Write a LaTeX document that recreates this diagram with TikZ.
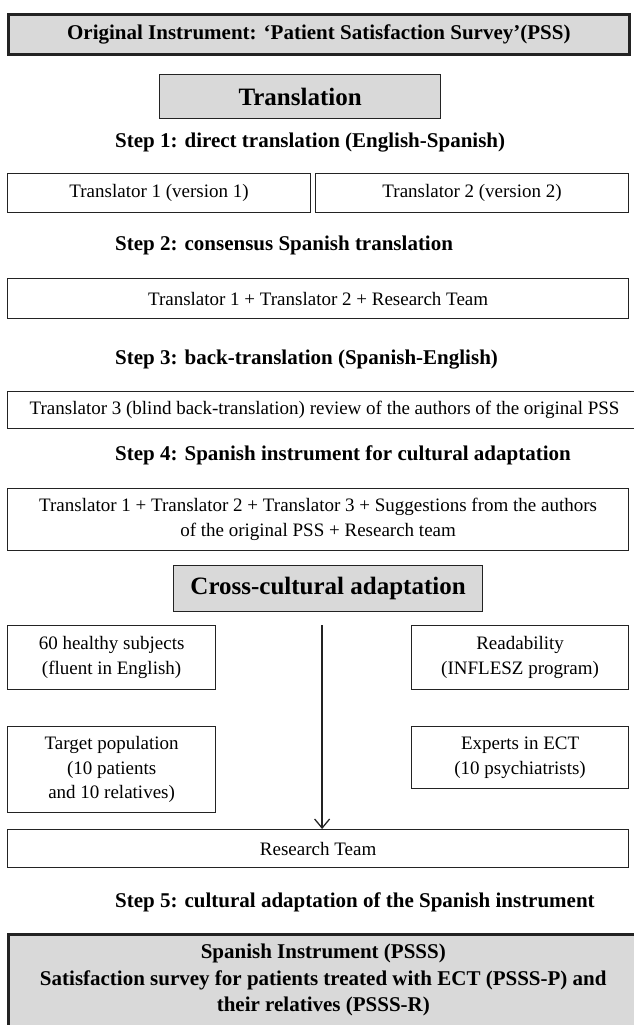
\documentclass[tikz,border=0pt]{standalone}
\usepackage{fontspec}
\setmainfont{Liberation Serif}
\usetikzlibrary{positioning,arrows.meta}
\definecolor{BoxGray}{RGB}{217,217,217}
\definecolor{Edge}{RGB}{35,35,35}

\begin{document}
\begin{tikzpicture}[x=1pt,y=-1pt,
    titlebox/.style={draw=Edge,line width=2.6pt,fill=BoxGray,align=center,inner sep=0pt,font=\fontsize{21}{26.5}\selectfont\bfseries},
    stagebox/.style={draw=Edge,line width=1.2pt,fill=BoxGray,inner sep=0pt,font=\fontsize{25}{28}\selectfont\bfseries},
    steptext/.style={anchor=west,inner sep=0pt,font=\fontsize{21}{25}\selectfont\bfseries},
    plainbox/.style={draw=Edge,line width=1.2pt,fill=white,align=center,inner sep=0pt,anchor=north west,font=\fontsize{19}{24.5}\selectfont},
    flow/.style={-{Straight Barb[length=9pt,width=15pt,line width=1.3pt]},line width=1.3pt,Edge}
]
\useasboundingbox (0,0) rectangle (633,1025);

% Original instrument and translation stage
\node[titlebox,anchor=north west,minimum width=621pt,minimum height=40pt] (origbox) at (7,13)
  {Original Instrument: `Patient Satisfaction Survey'(PSS)};
\node[stagebox,anchor=north west,minimum width=281pt,minimum height=44pt] (transbox) at (159,74) {Translation};

% Step 1
\node[steptext] (stepone) at (115,143) {Step 1: direct translation (English-Spanish)};
\node[plainbox,minimum width=303pt,minimum height=39pt] (tra) at (7,173) {Translator 1 (version 1)};
\node[plainbox,minimum width=313pt,minimum height=39pt] (trb) at (315,173) {Translator 2 (version 2)};

% Step 2
\node[steptext] (steptwo) at (115,245) {Step 2: consensus Spanish translation};
\node[plainbox,minimum width=621pt,minimum height=40pt] (consbox) at (7,278) {Translator 1 + Translator 2 + Research Team};

% Step 3
\node[steptext] (stepthree) at (115,360) {Step 3: back-translation (Spanish-English)};
\node[plainbox,minimum width=634pt,minimum height=37pt] (backbox) at (7,391)
  {Translator 3 (blind back-translation) review of the authors of the original PSS};

% Step 4
\node[steptext] (stepfour) at (115,455) {Step 4: Spanish instrument for cultural adaptation};
\node[plainbox,minimum width=621pt,minimum height=62pt] (cultbox) at (7,488)
  {Translator 1 + Translator 2 + Translator 3 + Suggestions from the authors\\of the original PSS + Research team};

% Cross-cultural adaptation
\node[stagebox,anchor=north west,minimum width=309pt,minimum height=46pt] (crossbox) at (173,565) {Cross-cultural adaptation};
\node[plainbox,minimum width=208pt,minimum height=64pt] (healthy) at (7,625) {60 healthy subjects\\(fluent in English)};
\node[plainbox,minimum width=217pt,minimum height=64pt] (readab) at (411,625) {Readability\\(INFLESZ program)};
\node[plainbox,minimum width=208pt,minimum height=86pt] (target) at (7,726) {Target population\\(10 patients\\and 10 relatives)};
\node[plainbox,minimum width=217pt,minimum height=62pt] (experts) at (411,726) {Experts in ECT\\(10 psychiatrists)};
\node[plainbox,minimum width=621pt,minimum height=38pt] (rteam) at (7,829) {Research Team};

\draw[flow] ([xshift=-6pt,yshift=-13pt]crossbox.south) -- ([xshift=-6pt]crossbox.south |- rteam.north);

% Step 5
\node[steptext] (stepfive) at (115,902) {Step 5: cultural adaptation of the Spanish instrument};
\node[titlebox,anchor=north west,minimum width=630pt,minimum height=92pt] (finalbox) at (7,933)
  {Spanish Instrument (PSSS)\\Satisfaction survey for patients treated with ECT (PSSS-P) and\\their relatives (PSSS-R)};

\end{tikzpicture}
\end{document}
